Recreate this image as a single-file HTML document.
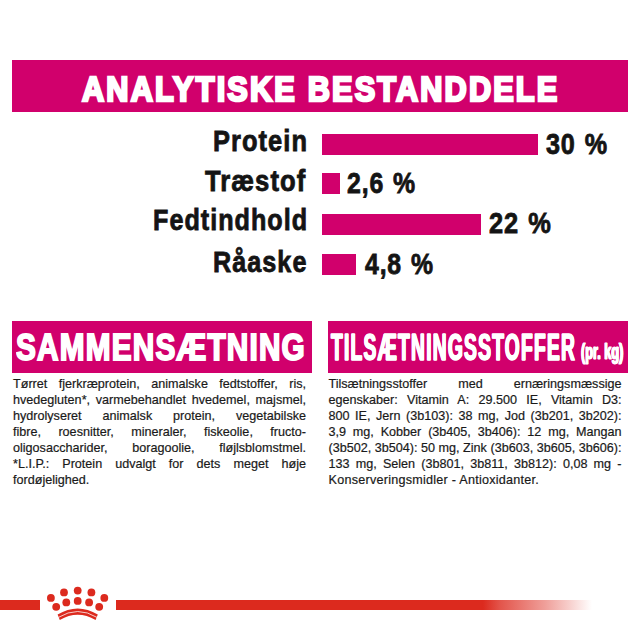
<!DOCTYPE html>
<html><head><meta charset="utf-8">
<style>
html,body{margin:0;padding:0;background:#fff;}
body{width:640px;height:640px;position:relative;overflow:hidden;font-family:"Liberation Sans",sans-serif;}
.a{position:absolute;white-space:nowrap;}
.box{position:absolute;background:#d1006c;}
.t{position:absolute;white-space:nowrap;font-weight:bold;line-height:1;}
.w{color:#fff;}
.k{color:#141414;}
.l{transform-origin:100% 0;}
.r{transform-origin:0 0;}
.bar{position:absolute;background:#d1006c;}
.body{position:absolute;font-size:12.6px;line-height:16px;color:#1a1a1a;-webkit-text-stroke:0.2px #1a1a1a;}
.ln{display:block;height:16px;text-align:justify;text-align-last:justify;white-space:nowrap;}
.ln.last{text-align-last:left;}
</style></head><body>

<div class="box" style="left:12px;top:60px;width:616px;height:52px;"></div>
<div id="T1" class="t w r" style="left:81.84px;top:70.9px;font-size:35px;transform:scaleX(0.8759);-webkit-text-stroke:2.6px #fff;letter-spacing:2.5px;">ANALYTISKE BESTANDDELE</div>

<div id="L1" class="t k r" style="left:213.37px;top:126.0px;font-size:29.5px;transform:scaleX(0.8635);letter-spacing:1.2px;-webkit-text-stroke:0.8px #141414;">Protein</div>
<div id="L2" class="t k r" style="left:205.3px;top:165.9px;font-size:29.5px;transform:scaleX(0.8684);letter-spacing:1.2px;-webkit-text-stroke:0.8px #141414;">Træstof</div>
<div id="L3" class="t k r" style="left:153.38px;top:204.5px;font-size:29.5px;transform:scaleX(0.8524);letter-spacing:1.2px;-webkit-text-stroke:0.8px #141414;">Fedtindhold</div>
<div id="L4" class="t k r" style="left:213.08px;top:246.8px;font-size:29.5px;transform:scaleX(0.8544);letter-spacing:1.2px;-webkit-text-stroke:0.8px #141414;">Råaske</div>

<div class="bar" style="left:321.7px;top:134.1px;width:216.8px;height:21px;"></div>
<div class="bar" style="left:321.7px;top:173.4px;width:18.2px;height:20.9px;"></div>
<div class="bar" style="left:321.7px;top:213.9px;width:158.9px;height:21px;"></div>
<div class="bar" style="left:321.7px;top:254.1px;width:34.2px;height:20.9px;"></div>

<div id="V1" class="t k r" style="left:546.35px;top:128.6px;font-size:29.5px;transform:scaleX(0.854);letter-spacing:1px;word-spacing:1.5px;-webkit-text-stroke:0.8px #141414;">30 %</div>
<div id="V2" class="t k r" style="left:347.3px;top:168.0px;font-size:29.5px;transform:scaleX(0.8431);letter-spacing:1px;word-spacing:1.5px;-webkit-text-stroke:0.8px #141414;">2,6 %</div>
<div id="V3" class="t k r" style="left:488.9px;top:207.8px;font-size:29.5px;transform:scaleX(0.8618);letter-spacing:1px;word-spacing:1.5px;-webkit-text-stroke:0.8px #141414;">22 %</div>
<div id="V4" class="t k r" style="left:364.7px;top:249.0px;font-size:29.5px;transform:scaleX(0.8406);letter-spacing:1px;word-spacing:1.5px;-webkit-text-stroke:0.8px #141414;">4,8 %</div>

<div class="box" style="left:12px;top:321px;width:300px;height:52px;"></div>
<div class="box" style="left:328px;top:321px;width:300px;height:52px;"></div>
<div id="H1" class="t w r" style="left:16.25px;top:328.7px;font-size:37.2px;transform:scaleX(0.8);-webkit-text-stroke:2px #fff;letter-spacing:1.5px;">SAMMENSÆTNING</div>
<div id="H2" class="t w r" style="left:331.4px;top:328.6px;font-size:37.2px;transform:scaleX(0.5149);-webkit-text-stroke:1.4px #fff;text-shadow:-1px 0 #fff,1px 0 #fff;letter-spacing:2.5px;">TILSÆTNINGSSTOFFER</div>
<div id="H3" class="t w r" style="left:580.7px;top:341.2px;font-size:22px;transform:scaleX(0.5773);-webkit-text-stroke:1px #fff;text-shadow:-1px 0 #fff,1px 0 #fff;">(pr. kg)</div>

<div class="body" style="left:13px;top:376px;width:293px;">
<span class="ln">Tørret fjerkræprotein, animalske fedtstoffer, ris,</span>
<span class="ln">hvedegluten*, varmebehandlet hvedemel, majsmel,</span>
<span class="ln">hydrolyseret animalsk protein, vegetabilske</span>
<span class="ln">fibre, roesnitter, mineraler, fiskeolie, fructo-</span>
<span class="ln">oligosaccharider, boragoolie, fløjlsblomstmel.</span>
<span class="ln">*L.I.P.: Protein udvalgt for dets meget høje</span>
<span class="ln last">fordøjelighed.</span>
</div>

<div class="body" style="left:328.5px;top:376px;width:293px;">
<span class="ln">Tilsætningsstoffer med ernæringsmæssige</span>
<span class="ln">egenskaber: Vitamin A: 29.500 IE, Vitamin D3:</span>
<span class="ln">800 IE, Jern (3b103): 38 mg, Jod (3b201, 3b202):</span>
<span class="ln">3,9 mg, Kobber (3b405, 3b406): 12 mg, Mangan</span>
<span class="ln">(3b502, 3b504): 50 mg, Zink (3b603, 3b605, 3b606):</span>
<span class="ln">133 mg, Selen (3b801, 3b811, 3b812): 0,08 mg -</span>
<span class="ln last" style="letter-spacing:0.25px;">Konserveringsmidler - Antioxidanter.</span>
</div>

<!-- footer line -->
<div class="a" style="left:0;top:600px;width:40px;height:10px;background:#dc2a1e;"></div>
<div class="a" style="left:116px;top:600px;width:480px;height:10px;background:linear-gradient(to right,rgba(220,42,30,1) 0,rgba(220,42,30,1) 367px,rgba(220,42,30,0.8) 384px,rgba(220,42,30,0.45) 429px,rgba(220,42,30,0.22) 454px,rgba(220,42,30,0) 476px);"></div>
<svg class="a" style="left:0;top:580px;" width="140" height="50" viewBox="0 580 140 50">
<g fill="#dc2a1e">
<circle cx="50.9" cy="597.9" r="3.9"/>
<circle cx="64" cy="592.4" r="3.9"/>
<circle cx="77.7" cy="590.6" r="3.9"/>
<circle cx="91.4" cy="592.4" r="3.9"/>
<circle cx="104.3" cy="597.9" r="3.9"/>
<circle cx="56.2" cy="606.8" r="3.9"/>
<circle cx="66.3" cy="602.4" r="3.9"/>
<circle cx="77.7" cy="600.9" r="3.9"/>
<circle cx="89.1" cy="602.4" r="3.9"/>
<circle cx="99.2" cy="606.8" r="3.9"/>
</g>
<path fill="#dc2a1e" d="M57.6 614.6 Q77.7 602.2 97.8 614.6 L95.6 620 Q77.7 609.6 59.8 620 Z"/>
<path fill="none" stroke="#fff" stroke-opacity="0.85" stroke-width="0.9" d="M58.4 617.4 Q77.7 605.6 97 617.4"/>
</svg>
</body></html>
